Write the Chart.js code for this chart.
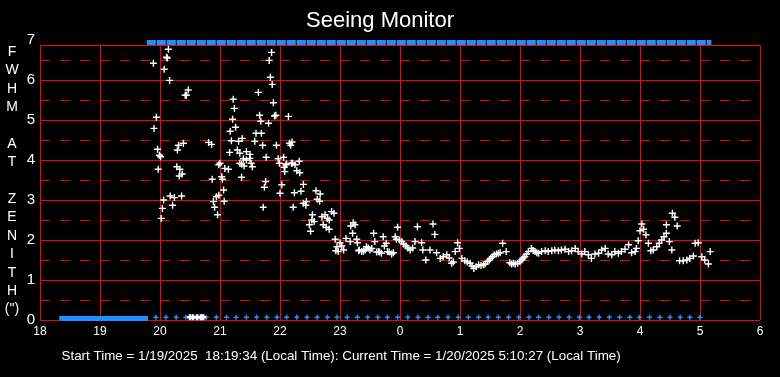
<!DOCTYPE html>
<html>
<head>
<meta charset="utf-8">
<title>Seeing Monitor</title>
<script src="https://cdn.jsdelivr.net/npm/chart.js@4/dist/chart.umd.min.js"></script>
<style>
  body { margin: 0; background: #000; }
  canvas { display: block; }
</style>
</head>
<body>
<canvas id="seeingChart" width="780" height="377"></canvas>
<script>
// hours after midnight of the start day (24+ = next morning)
const xTickLabels = ['18', '19', '20', '21', '22', '23', '0', '1', '2', '3', '4', '5', '6'];
const yTickLabels = ['0', '1', '2', '3', '4', '5', '6', '7'];
const plotTop = 6.875;

const seeingHours = [
  19.89, 19.90, 19.94, 19.96, 19.97, 19.99, 20.01, 20.02, 20.04, 20.06, 20.07, 20.11, 20.12, 20.14, 20.16, 20.17,
  20.21, 20.24, 20.28, 20.29, 20.31, 20.32, 20.33, 20.36, 20.37, 20.39, 20.42, 20.44, 20.47,
  20.81, 20.86, 20.87, 20.89, 20.91, 20.94, 20.96, 20.98, 20.98, 21.00, 21.03, 21.04, 21.06, 21.07, 21.08,
  21.14, 21.16, 21.17, 21.19, 21.21, 21.22, 21.24, 21.26, 21.29, 21.31, 21.33, 21.33, 21.36, 21.36, 21.37,
  21.39, 21.40, 21.44, 21.44, 21.50, 21.50, 21.52, 21.54, 21.58, 21.60, 21.64, 21.66, 21.68, 21.69, 21.71,
  21.72, 21.74, 21.76, 21.77, 21.81, 21.82, 21.84, 21.86, 21.87, 21.89, 21.91, 21.93, 21.94, 21.97, 21.99,
  22.00, 22.03, 22.06, 22.07, 22.08, 22.10, 22.11, 22.14, 22.16, 22.18, 22.19, 22.20, 22.21, 22.22, 22.24,
  22.25, 22.28, 22.32, 22.33, 22.35, 22.39, 22.39, 22.43, 22.44, 22.49, 22.51, 22.53, 22.54, 22.57, 22.60,
  22.62, 22.66, 22.67, 22.70, 22.72, 22.75, 22.77, 22.79, 22.82, 22.82, 22.86, 22.90, 22.92, 22.93, 22.95,
  22.97, 23.00, 23.03, 23.06, 23.10, 23.17, 23.18, 23.21, 23.22, 23.25, 23.28, 23.29, 23.31, 23.32, 23.36,
  23.39, 23.42, 23.44, 23.47, 23.50, 23.53, 23.56, 23.58, 23.61, 23.64, 23.66, 23.69, 23.72, 23.74, 23.77,
  23.79, 23.82, 23.86, 23.89, 23.92, 23.94, 23.96, 23.99,
  24.03, 24.06, 24.10, 24.13, 24.17, 24.21, 24.25, 24.29, 24.36, 24.38, 24.43, 24.50, 24.55, 24.58, 24.61,
  24.67, 24.72, 24.78, 24.82, 24.86, 24.89, 24.92, 24.96, 24.99, 25.03, 25.08, 25.12, 25.17, 25.20, 25.23,
  25.27, 25.31, 25.35, 25.39, 25.42, 25.46, 25.49, 25.51, 25.54, 25.57, 25.61, 25.64, 25.67, 25.71, 25.77,
  25.83, 25.86, 25.89, 25.92, 25.96, 26.00, 26.03, 26.05, 26.08, 26.11, 26.14, 26.19, 26.22, 26.25, 26.28,
  26.31, 26.36, 26.42, 26.47, 26.53, 26.58, 26.64, 26.69, 26.75, 26.81, 26.86, 26.92, 26.97, 27.03, 27.08,
  27.14, 27.19, 27.25, 27.31, 27.36, 27.42, 27.47, 27.53, 27.58, 27.64, 27.69, 27.75, 27.81, 27.86, 27.92,
  27.94, 27.97, 28.00, 28.03, 28.06, 28.10, 28.14, 28.18, 28.22, 28.28, 28.32, 28.36, 28.40, 28.44, 28.44,
  28.49, 28.53, 28.54, 28.58, 28.62, 28.66, 28.72, 28.78, 28.83, 28.89, 28.92, 28.97, 29.03, 29.08, 29.14,
  29.17
];
const seeingFwhm = [
  6.42, 4.79, 5.07, 4.27, 3.77, 4.12, 4.08, 2.54, 2.79, 3.00, 6.27, 6.57, 6.55, 6.77, 5.99, 3.10,
  2.87, 3.06, 3.83, 4.25, 4.37, 3.60, 3.77, 3.10, 3.65, 4.42, 5.62, 5.62, 5.75,
  4.44, 4.39, 3.52, 2.96, 2.82, 3.08, 2.63, 3.12, 3.88, 3.92, 3.58, 3.52, 3.25, 2.97, 3.79,
  3.77, 4.19, 4.72, 4.48, 5.02, 5.52, 5.29, 4.82, 4.25, 4.47, 4.17, 3.92, 3.57, 3.90, 4.54,
  4.03, 3.85, 4.21, 4.00, 4.14, 4.04, 3.92, 3.83, 4.47, 4.67, 5.69, 5.12, 4.97, 4.67, 4.37,
  2.82, 3.32, 3.46, 4.07, 4.92, 6.49, 6.07, 6.69, 5.89, 5.43, 5.10, 5.12, 4.37, 4.03, 3.92,
  3.17, 3.38, 4.07, 3.82, 3.71, 3.88, 3.90, 5.09, 4.42, 4.37, 3.92, 4.45, 3.92, 2.82, 3.18,
  3.88, 3.73, 3.97, 3.68, 3.22, 3.39, 2.92, 2.87, 2.96, 2.38, 2.22, 2.50, 2.63, 2.46, 3.23,
  3.02, 2.97, 3.15, 2.58, 2.38, 2.63, 2.32, 2.54, 2.50, 2.27, 2.71, 2.67, 2.02, 1.73, 1.83,
  1.71, 1.93, 1.85, 1.75, 2.04, 1.96, 2.35, 2.17, 2.43, 2.38, 2.02, 1.93, 1.73, 1.75, 1.71,
  1.72, 1.75, 1.83, 1.80, 1.75, 1.79, 2.17, 1.96, 1.70, 1.71, 1.70, 1.67, 2.08, 1.85, 1.92,
  1.71, 1.70, 1.65, 1.68, 2.08, 2.02, 2.32, 2.00,
  1.96, 1.90, 1.85, 1.80, 1.75, 1.80, 1.96, 2.33, 1.93, 1.75, 1.50, 1.75, 2.40, 2.14, 1.68,
  1.54, 1.58, 1.63, 1.55, 1.42, 1.45, 1.71, 1.93, 1.79, 1.54, 1.48, 1.45, 1.42, 1.35, 1.29,
  1.33, 1.38, 1.36, 1.38, 1.40, 1.46, 1.50, 1.54, 1.58, 1.63, 1.65, 1.67, 1.68, 1.92, 1.71,
  1.43, 1.40, 1.42, 1.40, 1.42, 1.46, 1.50, 1.55, 1.58, 1.65, 1.71, 1.79, 1.74, 1.71, 1.68,
  1.67, 1.71, 1.73, 1.71, 1.73, 1.75, 1.73, 1.75, 1.77, 1.71, 1.73, 1.79, 1.71, 1.65, 1.71,
  1.63, 1.54, 1.65, 1.67, 1.75, 1.79, 1.65, 1.63, 1.71, 1.67, 1.71, 1.77, 1.88, 1.68, 1.71,
  1.79, 1.98, 2.23, 2.40, 2.27, 2.13, 1.92, 1.73, 1.75, 1.83, 1.92, 2.00, 2.08, 2.17, 2.38,
  1.96, 1.75, 2.67, 2.57, 2.35, 1.48, 1.48, 1.50, 1.54, 1.60, 1.92, 1.93, 1.58, 1.50, 1.40,
  1.71
];

// status marks along the bottom and top edges
const checkHours = [
  19.93, 20.10, 20.27, 20.43, 20.60, 20.77, 20.94, 21.11, 21.27, 21.44, 21.61, 21.78, 21.95, 22.11,
  22.28, 22.45, 22.62, 22.79, 22.95, 23.12, 23.29, 23.46, 23.63, 23.79, 23.96, 24.13, 24.30, 24.47,
  24.63, 24.80, 24.97, 25.14, 25.31, 25.47, 25.64, 25.81, 25.98, 26.15, 26.31, 26.48, 26.65, 26.82,
  26.99, 27.15, 27.32, 27.49, 27.66, 27.83, 27.99, 28.16, 28.33, 28.50, 28.67, 28.83, 29.00
];
const checkLevel = 0.07;
const zeroHours = [20.50, 20.55, 20.62, 20.68, 20.72];
const idleSpan = [18.32, 19.80];
const idleLevel = 0.04;
const trackSpan = [19.78, 29.19];
const trackLevel = 6.94;

const sideLetters = ['F', 'W', 'H', 'M', '', 'A', 'T', '', 'Z', 'E', 'N', 'I', 'T', 'H', '(")'];
const footerText = 'Start Time = 1/19/2025  18:19:34 (Local Time): Current Time = 1/20/2025 5:10:27 (Local Time)';

const RED = '#ff0000';
const BLUE = '#1e90ff';

Chart.defaults.font.family = '"Liberation Sans", Arial, sans-serif';
Chart.defaults.color = '#ffffff';

const isHalf = (ctx) => ctx.tick && ctx.tick.value % 1 !== 0;

const framePlugin = {
    id: 'frame',
    beforeDatasetsDraw(chart) {
        const {ctx, chartArea, scales} = chart;
        const top = Math.round(scales.y.getPixelForValue(plotTop)) + 0.5;
        ctx.save();
        // dashed half-unit lines
        ctx.strokeStyle = RED;
        ctx.lineWidth = 1;
        ctx.setLineDash([10, 10]);
        scales.y.ticks.forEach(t => {
            if (t.value % 1 === 0) return;
            const py = Math.round(scales.y.getPixelForValue(t.value)) + 0.5;
            ctx.beginPath();
            ctx.moveTo(chartArea.left, py);
            ctx.lineTo(chartArea.right, py);
            ctx.stroke();
        });
        ctx.setLineDash([]);
        // plot box stops a little under the 7 tick
        ctx.fillStyle = '#000';
        ctx.fillRect(chartArea.left - 1, chartArea.top - 1, chartArea.width + 2, top - chartArea.top + 0.5);
        ctx.beginPath();
        ctx.moveTo(chartArea.left, top);
        ctx.lineTo(chartArea.right + 0.5, top);
        ctx.stroke();
        ctx.restore();
    },
    afterDraw(chart) {
        const ctx = chart.ctx;
        ctx.save();
        ctx.fillStyle = '#ffffff';
        ctx.font = '14px "Liberation Sans", Arial, sans-serif';
        ctx.textAlign = 'center';
        ctx.textBaseline = 'middle';
        sideLetters.forEach((ch, i) => ctx.fillText(ch, 12, 52 + i * 18.4));
        ctx.font = '13.4px "Liberation Sans", Arial, sans-serif';
        ctx.textAlign = 'left';
        ctx.textBaseline = 'alphabetic';
        ctx.fillText(footerText, 61.5, 360);
        ctx.restore();
    }
};

const config = {
    type: 'scatter',
    data: {
        datasets: [
            {
                label: 'FWHM',
                data: seeingHours.map((h, i) => ({x: h, y: seeingFwhm[i]})),
                pointStyle: 'cross',
                pointRadius: 3.5,
                borderColor: '#ffffff',
                borderWidth: 1.4,
                clip: false
            },
            {
                label: 'zero',
                data: zeroHours.map(h => ({x: h, y: checkLevel})),
                pointStyle: 'cross',
                pointRadius: 3,
                borderColor: '#ffffff',
                borderWidth: 2.5,
                clip: false
            },
            {
                label: 'check',
                data: checkHours.map(h => ({x: h, y: checkLevel})),
                pointStyle: 'cross',
                pointRadius: 2.5,
                borderColor: BLUE,
                borderWidth: 1.5,
                clip: false
            },
            {
                label: 'idle',
                type: 'line',
                data: idleSpan.map(h => ({x: h, y: idleLevel})),
                borderColor: BLUE,
                borderWidth: 5,
                pointRadius: 0,
                clip: false
            },
            {
                label: 'track',
                type: 'line',
                data: trackSpan.map(h => ({x: h, y: trackLevel})),
                borderColor: BLUE,
                borderWidth: 5,
                borderDash: [9, 1],
                pointRadius: 0,
                clip: false
            }
        ]
    },
    options: {
        responsive: false,
        animation: false,
        events: [],
        layout: {
            padding: {left: 0, right: 20, top: 0, bottom: 37}
        },
        scales: {
            x: {
                type: 'linear',
                min: 18,
                max: 30,
                afterFit: (scale) => { scale.height = 20; },
                border: {display: false},
                grid: {color: RED, lineWidth: 1, drawTicks: false},
                ticks: {
                    stepSize: 1,
                    autoSkip: false,
                    maxRotation: 0,
                    padding: 4,
                    color: '#ffffff',
                    font: {size: 12},
                    callback: (value) => xTickLabels[Math.round(value - 18)]
                }
            },
            y: {
                min: 0,
                max: 7,
                afterFit: (scale) => { scale.width = 40; },
                border: {display: false},
                grid: {
                    color: (ctx) => isHalf(ctx) ? 'rgba(0,0,0,0)' : RED,
                    lineWidth: 1,
                    drawTicks: false
                },
                ticks: {
                    stepSize: 0.5,
                    autoSkip: false,
                    padding: 5,
                    color: '#ffffff',
                    font: {size: 15},
                    callback: (value) => value % 1 === 0 ? yTickLabels[value] : ''
                }
            }
        },
        plugins: {
            legend: {display: false},
            tooltip: {enabled: false},
            title: {
                display: true,
                text: 'Seeing Monitor',
                color: '#ffffff',
                font: {size: 22, weight: 'normal'},
                padding: {top: 8, bottom: 5.6}
            }
        }
    },
    plugins: [framePlugin]
};

new Chart('seeingChart', config);
</script>
</body>
</html>
